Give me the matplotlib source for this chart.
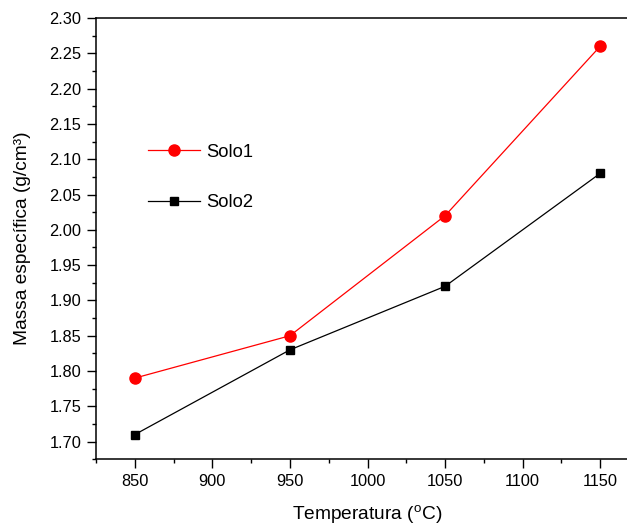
import matplotlib
matplotlib.use("Agg")
import matplotlib.pyplot as plt
from matplotlib.ticker import MultipleLocator, FormatStrFormatter

plt.rcParams['font.family'] = ['Liberation Sans', 'DejaVu Sans']
plt.rcParams['mathtext.fontset'] = 'custom'
plt.rcParams['mathtext.rm'] = 'Liberation Sans'

temperatures = [850, 950, 1050, 1150]
solo1 = [1.79, 1.85, 2.02, 2.26]
solo2 = [1.71, 1.83, 1.92, 2.08]
series_labels = ["Solo1", "Solo2"]

fig = plt.figure(figsize=(6.27, 5.29), dpi=100)
ax = fig.add_axes([96/627, (529-459.3)/529, (639-96)/627, (459.3-18)/529])

ax.plot(temperatures, solo1, color='red', lw=0.9, marker='o', ms=8,
        label=series_labels[0])
ax.plot(temperatures, solo2, color='black', lw=0.9, marker='s', ms=6.3,
        label=series_labels[1])

ax.set_xlim(825, 1175)
ax.set_ylim(1.675, 2.30)
ax.xaxis.set_major_locator(MultipleLocator(50))
ax.xaxis.set_minor_locator(MultipleLocator(25))
ax.yaxis.set_major_locator(MultipleLocator(0.05))
ax.yaxis.set_minor_locator(MultipleLocator(0.025))
ax.yaxis.set_major_formatter(FormatStrFormatter('%.2f'))

ax.tick_params(which='major', direction='out', length=6.3, width=1, labelsize=11.8, pad=4.3)
ax.tick_params(which='minor', direction='out', length=3, width=1)
for s in ax.spines.values():
    s.set_linewidth(1.1)

ax.set_xlabel('Temperatura ($^\\mathrm{o}$C)', fontsize=13.8, labelpad=10)
ax.set_ylabel('Massa específica (g/cm³)', fontsize=13.8)
ax.yaxis.set_label_coords((31 - 96) / 543, 0.5)

ax.legend(loc='center left', bbox_to_anchor=((148-96)/543, (459.3-177.5)/441.3),
          frameon=False, fontsize=13.2, handlelength=2.83, handletextpad=0.33,
          labelspacing=1.85, borderpad=0, borderaxespad=0)

fig.savefig('out.png', dpi=100)
